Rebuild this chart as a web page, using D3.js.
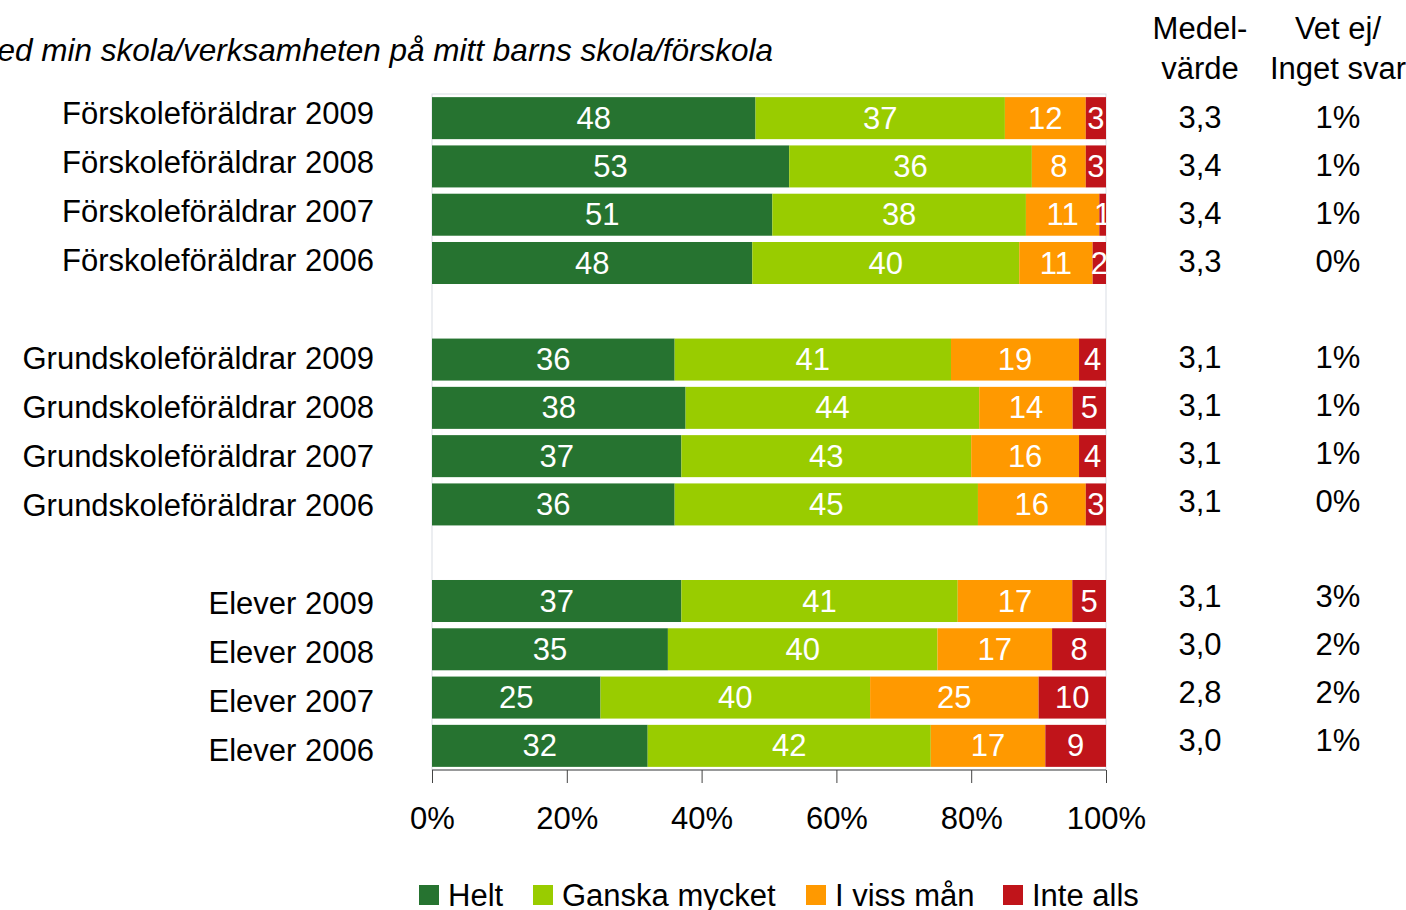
<!DOCTYPE html>
<html>
<head>
<meta charset="utf-8">
<script src="https://d3js.org/d3.v7.min.js"></script>
<style>
  body { margin: 0; background: #fff; }
  text { font-family: "Liberation Sans", Arial, sans-serif; }
</style>
</head>
<body>
<div id="chart"></div>
<script>
    // rows, top to bottom; "gap" rows are empty spacers
    var rows = ["Förskoleföräldrar 2009", "Förskoleföräldrar 2008", "Förskoleföräldrar 2007", "Förskoleföräldrar 2006", "gap1",
                "Grundskoleföräldrar 2009", "Grundskoleföräldrar 2008", "Grundskoleföräldrar 2007", "Grundskoleföräldrar 2006", "gap2",
                "Elever 2009", "Elever 2008", "Elever 2007", "Elever 2006"];
    var series = ["Helt", "Ganska mycket", "I viss mån", "Inte alls"];
    var colors = ["#267330", "#99cc00", "#ff9900", "#c0141a"];

    var helt    = [48, 53, 51, 48, null, 36, 38, 37, 36, null, 37, 35, 25, 32];
    var ganska  = [37, 36, 38, 40, null, 41, 44, 43, 45, null, 41, 40, 40, 42];
    var ivissman= [12, 8, 11, 11, null, 19, 14, 16, 16, null, 17, 17, 25, 17];
    var inteAlls= [3, 3, 1, 2, null, 4, 5, 4, 3, null, 5, 8, 10, 9];
    var medel   = ["3,3", "3,4", "3,4", "3,3", null, "3,1", "3,1", "3,1", "3,1", null, "3,1", "3,0", "2,8", "3,0"];
    var vetEj   = ["1%", "1%", "1%", "0%", null, "1%", "1%", "1%", "0%", null, "3%", "2%", "2%", "1%"];
    var xTicks = [0, 20, 40, 60, 80, 100];

    var W = 1406, H = 910;
    var pLeft = 432, pRight = 1106, pTop = 94, pBottom = 770;
    var fs = "31px";

    var svg = d3.select("#chart").append("svg")
        .attr("width", W)
        .attr("height", H);

    var x = d3.scaleLinear().domain([0, 100]).range([pLeft, pRight]);
    var y = d3.scaleBand().domain(rows).range([pTop, pBottom])
        .paddingInner(0.13).paddingOuter(0.065);
    var yLabel = d3.scalePoint().domain(rows).range([113, 750]);
    var yTable = d3.scalePoint().domain(rows).range([117, 740]);

    // title (cut off at the left edge, as in the original)
    svg.append("text")
        .attr("x", 773).attr("y", 61)
        .attr("text-anchor", "end")
        .style("font-size", "31.5px")
        .style("font-style", "italic")
        .text("ed min skola/verksamheten på mitt barns skola/förskola");

    // plot area border
    svg.append("rect")
        .attr("x", pLeft).attr("y", pTop)
        .attr("width", pRight - pLeft).attr("height", pBottom - pTop)
        .attr("fill", "none")
        .attr("stroke", "#d9dde4")
        .attr("stroke-width", 1);

    svg.append("clipPath").attr("id", "plotClip")
        .append("rect")
        .attr("x", pLeft).attr("y", pTop)
        .attr("width", pRight - pLeft).attr("height", pBottom - pTop);

    // build stacked table
    var table = rows.map(function (r, i) {
        return { row: r, vals: [helt[i], ganska[i], ivissman[i], inteAlls[i]] };
    }).filter(function (d) { return d.vals[0] != null; });

    var segs = [];
    table.forEach(function (d) {
        var total = d3.sum(d.vals);
        var acc = 0;
        d.vals.forEach(function (v, k) {
            segs.push({ row: d.row, k: k, v: v, x0: acc / total * 100, x1: (acc + v) / total * 100 });
            acc += v;
        });
    });

    var g = svg.append("g").attr("clip-path", "url(#plotClip)");

    g.selectAll("rect.seg")
        .data(segs)
        .enter().append("rect")
        .attr("class", "seg")
        .attr("x", function (d) { return x(d.x0); })
        .attr("y", function (d) { return y(d.row); })
        .attr("width", function (d) { return x(d.x1) - x(d.x0); })
        .attr("height", y.bandwidth())
        .attr("fill", function (d) { return colors[d.k]; });

    g.selectAll("text.lbl")
        .data(segs)
        .enter().append("text")
        .attr("class", "lbl")
        .attr("x", function (d) { return (x(d.x0) + x(d.x1)) / 2; })
        .attr("y", function (d) { return y(d.row) + y.bandwidth() / 2; })
        .attr("dy", "0.34em")
        .attr("text-anchor", "middle")
        .attr("fill", "#fff")
        .style("font-size", fs)
        .text(function (d) { return d.v; });

    // category labels
    svg.selectAll("text.cat")
        .data(table)
        .enter().append("text")
        .attr("class", "cat")
        .attr("x", 374)
        .attr("y", function (d) { return yLabel(d.row); })
        .attr("dy", "0.36em")
        .attr("text-anchor", "end")
        .style("font-size", fs)
        .text(function (d) { return d.row; });

    // x axis
    var xAxis = d3.axisBottom(x)
        .tickValues(xTicks)
        .tickSize(13)
        .tickPadding(24)
        .tickFormat(function (d) { return d + "%"; });
    var ax = svg.append("g")
        .attr("transform", "translate(0," + pBottom + ")")
        .call(xAxis);
    ax.select(".domain").attr("stroke", "#444").attr("d", "M" + pLeft + ",0H" + pRight);
    ax.selectAll(".tick line").attr("stroke", "#444");
    ax.selectAll(".tick text")
        .style("font-family", "'Liberation Sans', Arial, sans-serif")
        .style("font-size", fs)
        .attr("fill", "#000");

    // right-hand table
    var headers = [
        { x: 1200, lines: ["Medel-", "värde"] },
        { x: 1338, lines: ["Vet ej/", "Inget svar"] }
    ];
    headers.forEach(function (h) {
        h.lines.forEach(function (l, j) {
            svg.append("text")
                .attr("x", h.x).attr("y", 39 + j * 40)
                .attr("text-anchor", "middle")
                .style("font-size", fs)
                .text(l);
        });
    });

    var tableRows = rows.map(function (r, i) { return { row: r, m: medel[i], v: vetEj[i] }; })
        .filter(function (d) { return d.m != null; });

    svg.selectAll("text.medel")
        .data(tableRows)
        .enter().append("text")
        .attr("class", "medel")
        .attr("x", 1200)
        .attr("y", function (d) { return yTable(d.row); })
        .attr("dy", "0.36em")
        .attr("text-anchor", "middle")
        .style("font-size", fs)
        .text(function (d) { return d.m; });

    svg.selectAll("text.vetej")
        .data(tableRows)
        .enter().append("text")
        .attr("class", "vetej")
        .attr("x", 1338)
        .attr("y", function (d) { return yTable(d.row); })
        .attr("dy", "0.36em")
        .attr("text-anchor", "middle")
        .style("font-size", fs)
        .text(function (d) { return d.v; });

    // legend
    var legendX = [419, 533, 806, 1003];
    var leg = svg.selectAll("g.leg")
        .data(series)
        .enter().append("g")
        .attr("class", "leg")
        .attr("transform", function (d, i) { return "translate(" + legendX[i] + ",885)"; });
    leg.append("rect")
        .attr("width", 20).attr("height", 20)
        .attr("fill", function (d, i) { return colors[i]; });
    leg.append("text")
        .attr("x", 29).attr("y", 10)
        .attr("dy", "0.36em")
        .style("font-size", fs)
        .text(function (d) { return d; });
</script>
</body>
</html>
